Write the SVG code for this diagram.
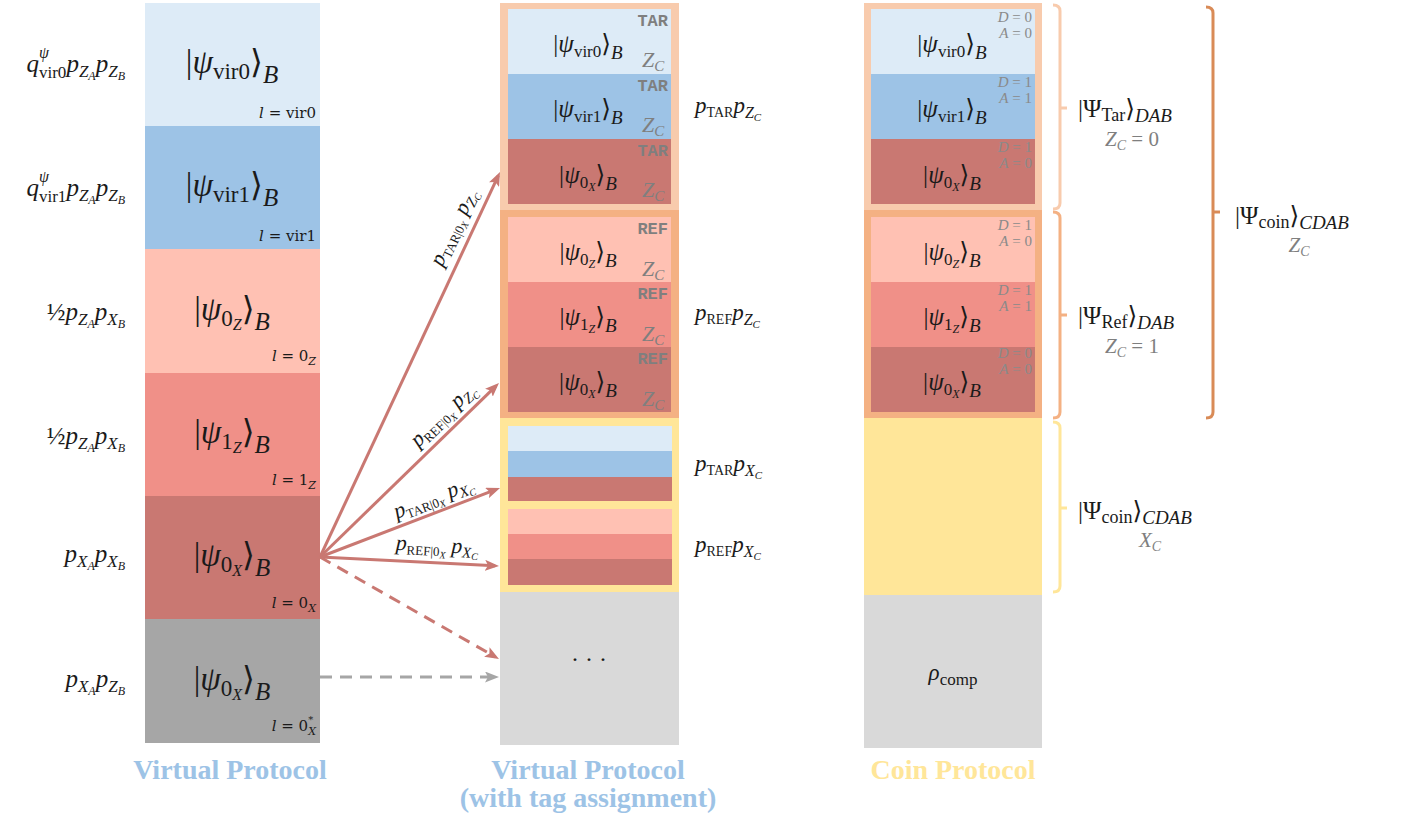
<svg xmlns="http://www.w3.org/2000/svg" width="1403" height="819" viewBox="0 0 1403 819">
<defs>
<style>
.m{font-family:"Liberation Serif","DejaVu Serif","DejaVu Sans",serif;fill:#1a1a1a}
.i{font-style:italic}
.u{font-style:normal}
.g{fill:#7f7f7f}
.k1{font-size:33px}
.k2{font-size:25px}
.lab{font-size:25px}
.al{font-size:22px}
.ll{font-family:"DejaVu Serif","Liberation Serif",serif;font-size:15px;fill:#1a1a1a}
.tag{font-family:"Liberation Mono","DejaVu Sans Mono",monospace;font-weight:bold;font-size:17px;fill:#7f7f7f}
.da{font-family:"Liberation Serif","DejaVu Serif",serif;font-size:15px;fill:#8a8a8a}
.title{font-family:"Liberation Serif","DejaVu Serif",serif;font-weight:bold;font-size:28px}
.arr{stroke:#C97872;stroke-width:3;fill:none}
.br{fill:none;stroke-width:3}
</style>
<marker id="ah" viewBox="0 0 14 11" refX="10" refY="5.5" markerWidth="14" markerHeight="11" markerUnits="userSpaceOnUse" orient="auto">
<path d="M0,0 L14,5.5 L0,11 L3,5.5 z" fill="#C97872"/>
</marker>
<marker id="ahg" viewBox="0 0 14 11" refX="10" refY="5.5" markerWidth="14" markerHeight="11" markerUnits="userSpaceOnUse" orient="auto">
<path d="M0,0 L14,5.5 L0,11 L3,5.5 z" fill="#A6A6A6"/>
</marker>
</defs>
<rect width="1403" height="819" fill="#ffffff"/>

<!-- Left column: Virtual Protocol -->
<g id="left-vir0">
<rect x="145" y="3" width="175" height="123" fill="#DDEBF7"/>
<text class="m k1" x="232" y="73" text-anchor="middle">|<tspan class="i">ψ</tspan><tspan dy="6" font-size="23">vir0</tspan><tspan dy="-6">⟩</tspan><tspan dy="10" font-size="25" class="i">B</tspan></text>
<text class="ll" x="316" y="118" text-anchor="end"><tspan font-style="italic">l</tspan> = vir0</text>
<text class="m lab i" x="125" y="72" text-anchor="end">q<tspan dy="-14" font-size="16">ψ</tspan><tspan dx="-10" dy="20" font-size="17" class="u">vir0</tspan><tspan dy="-6">p</tspan><tspan dy="5" font-size="17">Z</tspan><tspan dy="3" font-size="12">A</tspan><tspan dy="-8">p</tspan><tspan dy="5" font-size="17">Z</tspan><tspan dy="3" font-size="12">B</tspan></text>
</g>
<g id="left-vir1">
<rect x="145" y="126" width="175" height="123" fill="#9DC3E6"/>
<text class="m k1" x="232" y="196" text-anchor="middle">|<tspan class="i">ψ</tspan><tspan dy="6" font-size="23">vir1</tspan><tspan dy="-6">⟩</tspan><tspan dy="10" font-size="25" class="i">B</tspan></text>
<text class="ll" x="316" y="241" text-anchor="end"><tspan font-style="italic">l</tspan> = vir1</text>
<text class="m lab i" x="125" y="196" text-anchor="end">q<tspan dy="-14" font-size="16">ψ</tspan><tspan dx="-10" dy="20" font-size="17" class="u">vir1</tspan><tspan dy="-6">p</tspan><tspan dy="5" font-size="17">Z</tspan><tspan dy="3" font-size="12">A</tspan><tspan dy="-8">p</tspan><tspan dy="5" font-size="17">Z</tspan><tspan dy="3" font-size="12">B</tspan></text>
</g>
<g id="left-0z">
<rect x="145" y="249" width="175" height="124" fill="#FFC1B3"/>
<text class="m k1" x="232" y="320" text-anchor="middle">|<tspan class="i">ψ</tspan><tspan dy="6" font-size="23">0</tspan><tspan dy="4" font-size="16" class="i">Z</tspan><tspan dy="-10">⟩</tspan><tspan dy="10" font-size="25" class="i">B</tspan></text>
<text class="ll" x="316" y="361" text-anchor="end"><tspan font-style="italic">l</tspan> = 0<tspan dy="4" font-size="11" font-style="italic">Z</tspan></text>
<text class="m lab i" x="125" y="320" text-anchor="end"><tspan class="u">½</tspan>p<tspan dy="5" font-size="17">Z</tspan><tspan dy="3" font-size="12">A</tspan><tspan dy="-8">p</tspan><tspan dy="5" font-size="17">X</tspan><tspan dy="3" font-size="12">B</tspan></text>
</g>
<g id="left-1z">
<rect x="145" y="373" width="175" height="123" fill="#F09088"/>
<text class="m k1" x="232" y="443" text-anchor="middle">|<tspan class="i">ψ</tspan><tspan dy="6" font-size="23">1</tspan><tspan dy="4" font-size="16" class="i">Z</tspan><tspan dy="-10">⟩</tspan><tspan dy="10" font-size="25" class="i">B</tspan></text>
<text class="ll" x="316" y="485" text-anchor="end"><tspan font-style="italic">l</tspan> = 1<tspan dy="4" font-size="11" font-style="italic">Z</tspan></text>
<text class="m lab i" x="125" y="444" text-anchor="end"><tspan class="u">½</tspan>p<tspan dy="5" font-size="17">Z</tspan><tspan dy="3" font-size="12">A</tspan><tspan dy="-8">p</tspan><tspan dy="5" font-size="17">X</tspan><tspan dy="3" font-size="12">B</tspan></text>
</g>
<g id="left-0x">
<rect x="145" y="496" width="175" height="123" fill="#C97872"/>
<text class="m k1" x="232" y="566" text-anchor="middle">|<tspan class="i">ψ</tspan><tspan dy="6" font-size="23">0</tspan><tspan dy="4" font-size="16" class="i">X</tspan><tspan dy="-10">⟩</tspan><tspan dy="10" font-size="25" class="i">B</tspan></text>
<text class="ll" x="316" y="608" text-anchor="end"><tspan font-style="italic">l</tspan> = 0<tspan dy="4" font-size="11" font-style="italic">X</tspan></text>
<text class="m lab i" x="125" y="562" text-anchor="end">p<tspan dy="5" font-size="17">X</tspan><tspan dy="3" font-size="12">A</tspan><tspan dy="-8">p</tspan><tspan dy="5" font-size="17">X</tspan><tspan dy="3" font-size="12">B</tspan></text>
</g>
<g id="left-0x-star">
<rect x="145" y="619" width="175" height="124" fill="#A6A6A6"/>
<text class="m k1" x="232" y="690" text-anchor="middle">|<tspan class="i">ψ</tspan><tspan dy="6" font-size="23">0</tspan><tspan dy="4" font-size="16" class="i">X</tspan><tspan dy="-10">⟩</tspan><tspan dy="10" font-size="25" class="i">B</tspan></text>
<text class="ll" x="316" y="731" text-anchor="end"><tspan font-style="italic">l</tspan> = 0<tspan dy="-8" font-size="10">*</tspan><tspan dx="-5" dy="12" font-size="11" font-style="italic">X</tspan></text>
<text class="m lab i" x="125" y="687" text-anchor="end">p<tspan dy="5" font-size="17">X</tspan><tspan dy="3" font-size="12">A</tspan><tspan dy="-8">p</tspan><tspan dy="5" font-size="17">Z</tspan><tspan dy="3" font-size="12">B</tspan></text>
</g>
<text id="title-left" class="title" x="230" y="779" text-anchor="middle" fill="#9DC3E6">Virtual Protocol</text>

<!-- Middle column: Virtual Protocol with tags -->
<g id="mid-tar">
<rect x="500" y="3" width="179" height="207" fill="#F8CBAD"/>
<rect x="508" y="9" width="163" height="65" fill="#DDEBF7"/>
<rect x="508" y="74" width="163" height="65" fill="#9DC3E6"/>
<rect x="508" y="139" width="163" height="65" fill="#C97872"/>
<text class="m k2" x="588" y="52" text-anchor="middle">|<tspan class="i">ψ</tspan><tspan dy="5" font-size="17">vir0</tspan><tspan dy="-5">⟩</tspan><tspan dy="7" font-size="19" class="i">B</tspan></text>
<text class="m k2" x="588" y="117" text-anchor="middle">|<tspan class="i">ψ</tspan><tspan dy="5" font-size="17">vir1</tspan><tspan dy="-5">⟩</tspan><tspan dy="7" font-size="19" class="i">B</tspan></text>
<text class="m k2" x="588" y="183" text-anchor="middle">|<tspan class="i">ψ</tspan><tspan dy="5" font-size="17">0</tspan><tspan dy="3" font-size="12" class="i">X</tspan><tspan dy="-8">⟩</tspan><tspan dy="7" font-size="19" class="i">B</tspan></text>
<text class="tag" x="668" y="26" text-anchor="end">TAR</text>
<text class="tag" x="668" y="91" text-anchor="end">TAR</text>
<text class="tag" x="668" y="156" text-anchor="end">TAR</text>
<text class="m g i" font-size="22" x="642" y="67">Z<tspan dy="4" font-size="15">C</tspan></text>
<text class="m g i" font-size="22" x="642" y="132">Z<tspan dy="4" font-size="15">C</tspan></text>
<text class="m g i" font-size="22" x="642" y="197">Z<tspan dy="4" font-size="15">C</tspan></text>
<text class="m i" font-size="23" x="695" y="113">p<tspan dy="4" font-size="14" class="u">TAR</tspan><tspan dy="-4">p</tspan><tspan dy="5" font-size="16">Z</tspan><tspan dy="3" font-size="11">C</tspan></text>
</g>
<g id="mid-ref">
<rect x="500" y="210" width="179" height="208" fill="#F4B183"/>
<rect x="508" y="217" width="163" height="65" fill="#FFC1B3"/>
<rect x="508" y="282" width="163" height="65" fill="#F09088"/>
<rect x="508" y="347" width="163" height="65" fill="#C97872"/>
<text class="m k2" x="588" y="260" text-anchor="middle">|<tspan class="i">ψ</tspan><tspan dy="5" font-size="17">0</tspan><tspan dy="3" font-size="12" class="i">Z</tspan><tspan dy="-8">⟩</tspan><tspan dy="7" font-size="19" class="i">B</tspan></text>
<text class="m k2" x="588" y="325" text-anchor="middle">|<tspan class="i">ψ</tspan><tspan dy="5" font-size="17">1</tspan><tspan dy="3" font-size="12" class="i">Z</tspan><tspan dy="-8">⟩</tspan><tspan dy="7" font-size="19" class="i">B</tspan></text>
<text class="m k2" x="588" y="390" text-anchor="middle">|<tspan class="i">ψ</tspan><tspan dy="5" font-size="17">0</tspan><tspan dy="3" font-size="12" class="i">X</tspan><tspan dy="-8">⟩</tspan><tspan dy="7" font-size="19" class="i">B</tspan></text>
<text class="tag" x="668" y="234" text-anchor="end">REF</text>
<text class="tag" x="668" y="299" text-anchor="end">REF</text>
<text class="tag" x="668" y="364" text-anchor="end">REF</text>
<text class="m g i" font-size="22" x="642" y="276">Z<tspan dy="4" font-size="15">C</tspan></text>
<text class="m g i" font-size="22" x="642" y="341">Z<tspan dy="4" font-size="15">C</tspan></text>
<text class="m g i" font-size="22" x="642" y="406">Z<tspan dy="4" font-size="15">C</tspan></text>
<text class="m i" font-size="23" x="695" y="320">p<tspan dy="4" font-size="14" class="u">REF</tspan><tspan dy="-4">p</tspan><tspan dy="5" font-size="16">Z</tspan><tspan dy="3" font-size="11">C</tspan></text>
</g>
<g id="mid-x">
<rect x="500" y="418" width="179" height="174" fill="#FFE699"/>
<rect x="508" y="426" width="164" height="25" fill="#DDEBF7"/>
<rect x="508" y="451" width="164" height="26" fill="#9DC3E6"/>
<rect x="508" y="477" width="164" height="24" fill="#C97872"/>
<rect x="508" y="509" width="164" height="25" fill="#FFC1B3"/>
<rect x="508" y="534" width="164" height="25" fill="#F09088"/>
<rect x="508" y="559" width="164" height="26" fill="#C97872"/>
<text class="m i" font-size="23" x="695" y="471">p<tspan dy="4" font-size="14" class="u">TAR</tspan><tspan dy="-4">p</tspan><tspan dy="5" font-size="16">X</tspan><tspan dy="3" font-size="11">C</tspan></text>
<text class="m i" font-size="23" x="695" y="552">p<tspan dy="4" font-size="14" class="u">REF</tspan><tspan dy="-4">p</tspan><tspan dy="5" font-size="16">X</tspan><tspan dy="3" font-size="11">C</tspan></text>
</g>
<g id="mid-rest">
<rect x="500" y="592" width="179" height="153" fill="#D9D9D9"/>
<text class="m" font-size="24" x="589" y="667" text-anchor="middle">· · ·</text>
</g>
<text id="title-mid" class="title" x="588" y="779" text-anchor="middle" fill="#9DC3E6">Virtual Protocol</text>
<text id="subtitle-mid" class="title" font-size="19" x="588" y="807" text-anchor="middle" fill="#9DC3E6">(with tag assignment)</text>

<!-- Right column: Coin Protocol -->
<g id="coin-tar">
<rect x="864" y="3" width="178" height="207" fill="#F8CBAD"/>
<rect x="871" y="9" width="164" height="65" fill="#DDEBF7"/>
<rect x="871" y="74" width="164" height="65" fill="#9DC3E6"/>
<rect x="871" y="139" width="164" height="65" fill="#C97872"/>
<text class="m k2" x="952" y="52" text-anchor="middle">|<tspan class="i">ψ</tspan><tspan dy="5" font-size="17">vir0</tspan><tspan dy="-5">⟩</tspan><tspan dy="7" font-size="19" class="i">B</tspan></text>
<text class="m k2" x="952" y="117" text-anchor="middle">|<tspan class="i">ψ</tspan><tspan dy="5" font-size="17">vir1</tspan><tspan dy="-5">⟩</tspan><tspan dy="7" font-size="19" class="i">B</tspan></text>
<text class="m k2" x="952" y="183" text-anchor="middle">|<tspan class="i">ψ</tspan><tspan dy="5" font-size="17">0</tspan><tspan dy="3" font-size="12" class="i">X</tspan><tspan dy="-8">⟩</tspan><tspan dy="7" font-size="19" class="i">B</tspan></text>
<text class="da" x="1032" y="22" text-anchor="end"><tspan font-style="italic">D</tspan> = 0</text>
<text class="da" x="1032" y="38" text-anchor="end"><tspan font-style="italic">A</tspan> = 0</text>
<text class="da" x="1032" y="87" text-anchor="end"><tspan font-style="italic">D</tspan> = 1</text>
<text class="da" x="1032" y="103" text-anchor="end"><tspan font-style="italic">A</tspan> = 1</text>
<text class="da" x="1032" y="152" text-anchor="end"><tspan font-style="italic">D</tspan> = 1</text>
<text class="da" x="1032" y="168" text-anchor="end"><tspan font-style="italic">A</tspan> = 0</text>
</g>
<g id="coin-ref">
<rect x="864" y="210" width="178" height="208" fill="#F4B183"/>
<rect x="871" y="217" width="164" height="65" fill="#FFC1B3"/>
<rect x="871" y="282" width="164" height="65" fill="#F09088"/>
<rect x="871" y="347" width="164" height="65" fill="#C97872"/>
<text class="m k2" x="952" y="260" text-anchor="middle">|<tspan class="i">ψ</tspan><tspan dy="5" font-size="17">0</tspan><tspan dy="3" font-size="12" class="i">Z</tspan><tspan dy="-8">⟩</tspan><tspan dy="7" font-size="19" class="i">B</tspan></text>
<text class="m k2" x="952" y="325" text-anchor="middle">|<tspan class="i">ψ</tspan><tspan dy="5" font-size="17">1</tspan><tspan dy="3" font-size="12" class="i">Z</tspan><tspan dy="-8">⟩</tspan><tspan dy="7" font-size="19" class="i">B</tspan></text>
<text class="m k2" x="952" y="390" text-anchor="middle">|<tspan class="i">ψ</tspan><tspan dy="5" font-size="17">0</tspan><tspan dy="3" font-size="12" class="i">X</tspan><tspan dy="-8">⟩</tspan><tspan dy="7" font-size="19" class="i">B</tspan></text>
<text class="da" x="1032" y="230" text-anchor="end"><tspan font-style="italic">D</tspan> = 1</text>
<text class="da" x="1032" y="246" text-anchor="end"><tspan font-style="italic">A</tspan> = 0</text>
<text class="da" x="1032" y="295" text-anchor="end"><tspan font-style="italic">D</tspan> = 1</text>
<text class="da" x="1032" y="311" text-anchor="end"><tspan font-style="italic">A</tspan> = 1</text>
<text class="da" x="1032" y="358" text-anchor="end"><tspan font-style="italic">D</tspan> = 0</text>
<text class="da" x="1032" y="374" text-anchor="end"><tspan font-style="italic">A</tspan> = 0</text>
</g>
<g id="coin-x">
<rect x="864" y="418" width="178" height="177" fill="#FFE699"/>
</g>
<g id="coin-comp">
<rect x="864" y="595" width="178" height="153" fill="#D9D9D9"/>
<text class="m" font-size="23" x="953" y="680" text-anchor="middle"><tspan class="i">ρ</tspan><tspan dy="5" font-size="17">comp</tspan></text>
</g>
<text id="title-right" class="title" x="953" y="779" text-anchor="middle" fill="#FFE699">Coin Protocol</text>

<!-- Braces -->
<g id="brace-tar">
<path class="br" stroke="#F8CBAD" d="M1053,5 Q1060,5 1060,11 L1060,203 Q1060,209 1053,209 M1060,108 L1067,108"/>
<text class="m i" font-size="25" x="1078" y="117"><tspan class="u">|Ψ</tspan><tspan dy="4" font-size="18" class="u">Tar</tspan><tspan dy="-4" class="u">⟩</tspan><tspan dy="5" font-size="19">DAB</tspan></text>
<text class="m g i" font-size="21" x="1132" y="146" text-anchor="middle">Z<tspan dy="4" font-size="14">C</tspan><tspan dy="-4" class="u"> = 0</tspan></text>
</g>
<g id="brace-ref">
<path class="br" stroke="#F4B183" d="M1053,212 Q1060,212 1060,218 L1060,412 Q1060,418 1053,418 M1060,315 L1067,315"/>
<text class="m i" font-size="25" x="1078" y="324"><tspan class="u">|Ψ</tspan><tspan dy="4" font-size="18" class="u">Ref</tspan><tspan dy="-4" class="u">⟩</tspan><tspan dy="5" font-size="19">DAB</tspan></text>
<text class="m g i" font-size="21" x="1132" y="353" text-anchor="middle">Z<tspan dy="4" font-size="14">C</tspan><tspan dy="-4" class="u"> = 1</tspan></text>
</g>
<g id="brace-coin-z">
<path class="br" stroke="#D98B57" d="M1206,7 Q1213,7 1213,13 L1213,412 Q1213,418 1206,418 M1213,212 L1220,212"/>
<text class="m i" font-size="25" x="1235" y="224"><tspan class="u">|Ψ</tspan><tspan dy="4" font-size="18" class="u">coin</tspan><tspan dy="-4" class="u">⟩</tspan><tspan dy="5" font-size="19">CDAB</tspan></text>
<text class="m g i" font-size="21" x="1299" y="252" text-anchor="middle">Z<tspan dy="4" font-size="14">C</tspan></text>
</g>
<g id="brace-coin-x">
<path class="br" stroke="#FFE699" d="M1053,422 Q1060,422 1060,428 L1060,586 Q1060,592 1053,592 M1060,508 L1067,508"/>
<text class="m i" font-size="25" x="1078" y="519"><tspan class="u">|Ψ</tspan><tspan dy="4" font-size="18" class="u">coin</tspan><tspan dy="-4" class="u">⟩</tspan><tspan dy="5" font-size="19">CDAB</tspan></text>
<text class="m g i" font-size="21" x="1150" y="547" text-anchor="middle">X<tspan dy="4" font-size="14">C</tspan></text>
</g>

<!-- Connectors -->
<g id="connectors">
<line class="arr" x1="320" y1="557" x2="498.3" y2="175.6" marker-end="url(#ah)"/>
<line class="arr" x1="320" y1="557" x2="496.1" y2="385.8" marker-end="url(#ah)"/>
<line class="arr" x1="320" y1="557" x2="496.3" y2="489.4" marker-end="url(#ah)"/>
<line class="arr" x1="320" y1="557" x2="495" y2="565.8" marker-end="url(#ah)"/>
<line class="arr" x1="320" y1="557" x2="495.5" y2="657" stroke-dasharray="12 8" marker-end="url(#ah)"/>
<line x1="320" y1="677" x2="495" y2="677" stroke="#A6A6A6" stroke-width="3" stroke-dasharray="12 8" marker-end="url(#ahg)"/>
<text class="m i al" transform="translate(455,228) rotate(-65)" text-anchor="middle" y="5">p<tspan dy="4" font-size="13" class="u">TAR|0</tspan><tspan dy="2" font-size="10">X</tspan><tspan dy="-6"> p</tspan><tspan dy="4" font-size="15">Z</tspan><tspan dy="2" font-size="10">C</tspan></text>
<text class="m i al" transform="translate(444,416) rotate(-44)" text-anchor="middle" y="5">p<tspan dy="4" font-size="13" class="u">REF|0</tspan><tspan dy="2" font-size="10">X</tspan><tspan dy="-6"> p</tspan><tspan dy="4" font-size="15">Z</tspan><tspan dy="2" font-size="10">C</tspan></text>
<text class="m i al" transform="translate(434,499) rotate(-21)" text-anchor="middle" y="5">p<tspan dy="4" font-size="13" class="u">TAR|0</tspan><tspan dy="2" font-size="10">X</tspan><tspan dy="-6"> p</tspan><tspan dy="4" font-size="15">X</tspan><tspan dy="2" font-size="10">C</tspan></text>
<text class="m i al" transform="translate(437,547) rotate(3)" text-anchor="middle" y="5">p<tspan dy="4" font-size="13" class="u">REF|0</tspan><tspan dy="2" font-size="10">X</tspan><tspan dy="-6"> p</tspan><tspan dy="4" font-size="15">X</tspan><tspan dy="2" font-size="10">C</tspan></text>
</g>
</svg>
